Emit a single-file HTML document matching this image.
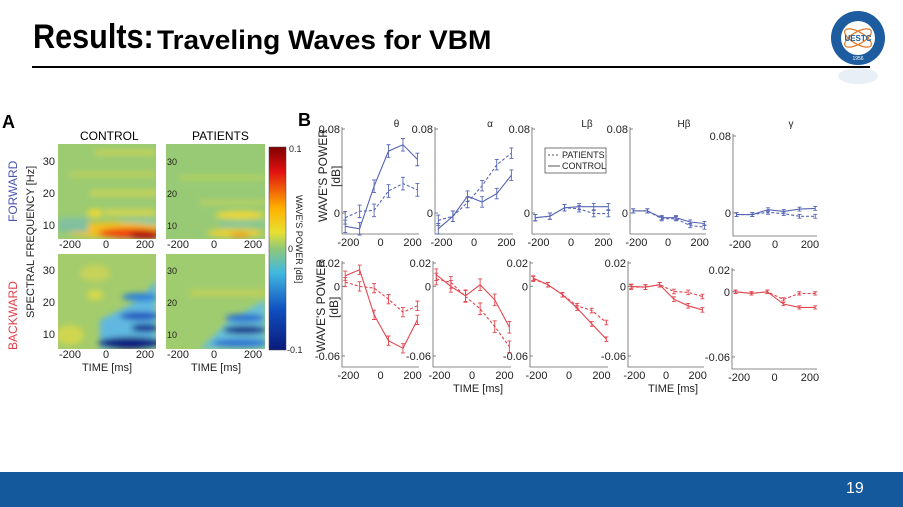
<!DOCTYPE html>
<html><head><meta charset="utf-8"><style>
html,body{margin:0;padding:0;background:#fff;}
body{width:903px;height:507px;position:relative;overflow:hidden;font-family:"Liberation Sans",sans-serif;}
.t{position:absolute;white-space:nowrap;}
</style></head><body>
<div class="t" style="left:33px;top:18px;font-weight:bold;color:#000;font-size:34px;transform:scaleX(0.9);transform-origin:left top;">Results:</div>
<div class="t" style="left:157px;top:25px;font-weight:bold;color:#000;font-size:27px;transform:scaleX(1.04);transform-origin:left top;">Traveling Waves for VBM</div>
<div style="position:absolute;left:32px;top:66px;width:838px;height:2px;background:#000;"></div>
<svg style="position:absolute;left:828px;top:8px" width="60" height="80">
<circle cx="30" cy="30" r="27" fill="#1d5c9e"/><circle cx="30" cy="30" r="17" fill="#fff"/>
<ellipse cx="30" cy="30" rx="15" ry="6" fill="none" stroke="#e07b2a" stroke-width="1.2" transform="rotate(30 30 30)"/>
<ellipse cx="30" cy="30" rx="15" ry="6" fill="none" stroke="#e07b2a" stroke-width="1.2" transform="rotate(-30 30 30)"/>
<text x="30" y="33" font-size="8" font-weight="bold" fill="#1d5c9e" text-anchor="middle" font-family="Liberation Sans">UESTC</text>
<text x="30" y="52" font-size="5" fill="#fff" text-anchor="middle" font-family="Liberation Sans">1956</text>
<ellipse cx="30" cy="68" rx="20" ry="8" fill="#dfe8f2" opacity="0.7"/>
</svg>
<div style="position:absolute;left:0;top:472px;width:903px;height:35px;background:#14599b;"></div>
<div class="t" style="left:846px;top:480px;color:#fff;font-size:16px;">19</div>

<svg id="fig" style="position:absolute;left:0;top:0" width="903" height="472" font-family="Liberation Sans">
<defs>
<filter id="bl" x="-20%" y="-20%" width="140%" height="140%"><feGaussianBlur stdDeviation="3"/></filter>
<clipPath id="c1"><rect x="58" y="144" width="98" height="95"/></clipPath>
<clipPath id="c2"><rect x="166" y="144" width="99" height="95"/></clipPath>
<clipPath id="c3"><rect x="58" y="254" width="98" height="95"/></clipPath>
<clipPath id="c4"><rect x="166" y="254" width="99" height="95"/></clipPath>
<linearGradient id="jet" x1="0" y1="0" x2="0" y2="1">
<stop offset="0" stop-color="#7f0000"/><stop offset="0.12" stop-color="#e01010"/><stop offset="0.3" stop-color="#ffb000"/><stop offset="0.42" stop-color="#e8e030"/><stop offset="0.5" stop-color="#90c878"/><stop offset="0.62" stop-color="#40b8e0"/><stop offset="0.8" stop-color="#1050c0"/><stop offset="1" stop-color="#0a1a7a"/>
</linearGradient>
</defs>
<text x="2" y="128" font-size="18" font-weight="bold">A</text>
<text x="80" y="140" font-size="12">CONTROL</text>
<text x="192" y="140" font-size="12">PATIENTS</text>
<g clip-path="url(#c1)">
<rect x="58" y="144" width="98" height="95" fill="#9ccb72"/>
<g filter="url(#bl)">
<rect x="95" y="150" width="60" height="5" fill="#c8d258"/>
<rect x="70" y="172" width="86" height="5" fill="#c0d05a"/>
<rect x="90" y="190" width="66" height="6" fill="#c8d258"/>
<rect x="105" y="210" width="50" height="5" fill="#e0d848"/>
<ellipse cx="95" cy="213" rx="8" ry="4" fill="#f0d830"/>
<rect x="120" y="220" width="36" height="4" fill="#7cc8b8"/>
<ellipse cx="115" cy="230" rx="50" ry="8" fill="#f2c020"/>
<ellipse cx="130" cy="233" rx="32" ry="5" fill="#f04010"/>
<ellipse cx="145" cy="235" rx="16" ry="4" fill="#b01008"/>
<rect x="58" y="218" width="30" height="14" fill="#80c0a0"/>
</g></g>
<g clip-path="url(#c2)">
<rect x="166" y="144" width="99" height="95" fill="#98ca76"/>
<g filter="url(#bl)">
<rect x="180" y="175" width="85" height="5" fill="#b4d060"/>
<rect x="200" y="200" width="65" height="5" fill="#b8d060"/>
<ellipse cx="240" cy="215" rx="25" ry="4" fill="#f0d838"/>
<rect x="220" y="222" width="45" height="4" fill="#80c4a8"/>
<ellipse cx="235" cy="233" rx="28" ry="4" fill="#f0d030"/>
<ellipse cx="240" cy="235" rx="10" ry="3" fill="#f0a020"/>
</g></g>
<g clip-path="url(#c3)">
<rect x="58" y="254" width="98" height="95" fill="#a4cc6c"/>
<g filter="url(#bl)">
<ellipse cx="95" cy="273" rx="15" ry="8" fill="#c8d258"/>
<ellipse cx="95" cy="295" rx="8" ry="5" fill="#d8d848"/>
<ellipse cx="70" cy="335" rx="14" ry="10" fill="#d0d650"/>
<path d="M100 349 L100 320 L140 300 L156 280 L156 349 Z" fill="#60b8e0"/>
<ellipse cx="140" cy="297" rx="18" ry="4" fill="#2a80d8"/>
<ellipse cx="140" cy="316" rx="20" ry="4" fill="#1a50c0"/>
<ellipse cx="145" cy="328" rx="14" ry="4" fill="#102a90"/>
<ellipse cx="130" cy="343" rx="32" ry="6" fill="#0c1e80"/>
</g></g>
<g clip-path="url(#c4)">
<rect x="166" y="254" width="99" height="95" fill="#a0cc70"/>
<g filter="url(#bl)">
<rect x="190" y="290" width="75" height="6" fill="#c0d058"/>
<path d="M200 349 L230 320 L265 300 L265 349 Z" fill="#68c0d8"/>
<ellipse cx="245" cy="318" rx="20" ry="4" fill="#2a70d0"/>
<ellipse cx="245" cy="330" rx="22" ry="4" fill="#0e2488"/>
<ellipse cx="240" cy="343" rx="28" ry="4" fill="#2a70d0"/>
</g></g>
<rect x="269" y="147" width="17" height="203" fill="url(#jet)" stroke="#444" stroke-width="0.5"/>
<g font-size="9" fill="#222">
<text x="289" y="152">0.1</text><text x="288" y="252">0</text><text x="287" y="353">-0.1</text>
<text transform="translate(296,195) rotate(90)" font-size="9">WAVE'S POWER [dB]</text>
</g>
<g font-size="11" fill="#222">
<text x="55" y="165" text-anchor="end">30</text><text x="55" y="197" text-anchor="end">20</text><text x="55" y="229" text-anchor="end">10</text>
<text x="55" y="274" text-anchor="end">30</text><text x="55" y="306" text-anchor="end">20</text><text x="55" y="338" text-anchor="end">10</text>
<text x="167" y="165" font-size="9">30</text><text x="167" y="197" font-size="9">20</text><text x="167" y="229" font-size="9">10</text>
<text x="167" y="274" font-size="9">30</text><text x="167" y="306" font-size="9">20</text><text x="167" y="338" font-size="9">10</text>
<text x="70" y="248" text-anchor="middle">-200</text><text x="106" y="248" text-anchor="middle">0</text><text x="145" y="248" text-anchor="middle">200</text>
<text x="178" y="248" text-anchor="middle">-200</text><text x="214" y="248" text-anchor="middle">0</text><text x="253" y="248" text-anchor="middle">200</text>
<text x="70" y="358" text-anchor="middle">-200</text><text x="106" y="358" text-anchor="middle">0</text><text x="145" y="358" text-anchor="middle">200</text>
<text x="178" y="358" text-anchor="middle">-200</text><text x="214" y="358" text-anchor="middle">0</text><text x="253" y="358" text-anchor="middle">200</text>
<text x="107" y="371" text-anchor="middle">TIME [ms]</text><text x="216" y="371" text-anchor="middle">TIME [ms]</text>
<text transform="translate(34,318) rotate(-90)" font-size="11">SPECTRAL FREQUENCY [Hz]</text>
<text transform="translate(17,222) rotate(-90)" font-size="12" fill="#4a55b0">FORWARD</text>
<text transform="translate(17,350) rotate(-90)" font-size="12" fill="#e0404a">BACKWARD</text>
</g>
<text x="298" y="126" font-size="18" font-weight="bold">B</text>
<text transform="translate(327,222) rotate(-90)" font-size="12" fill="#222">WAVE'S POWER</text>
<text transform="translate(340,187) rotate(-90)" font-size="12" fill="#222">[dB]</text>
<text transform="translate(325,352) rotate(-90)" font-size="12" fill="#222">WAVE'S POWER</text>
<text transform="translate(338,318) rotate(-90)" font-size="12" fill="#222">[dB]</text>
<text x="478" y="392" font-size="11" text-anchor="middle" fill="#222">TIME [ms]</text>
<text x="673" y="392" font-size="11" text-anchor="middle" fill="#222">TIME [ms]</text>
<g>
<rect x="545" y="148" width="61" height="25" fill="#fff" stroke="#555" stroke-width="0.8"/>
<line x1="548" y1="155" x2="560" y2="155" stroke="#555" stroke-dasharray="2,2"/>
<line x1="548" y1="166" x2="560" y2="166" stroke="#555"/>
<text x="562" y="158" font-size="9" fill="#222">PATIENTS</text>
<text x="562" y="169" font-size="9" fill="#222">CONTROL</text>
</g>
<g id="charts"></g>
</svg>
<script>
const times = [-220, -130, -40, 50, 140, 230];
const bands = ['θ', 'α', 'Lβ', 'Hβ', 'γ'];
const xTicks = [-200, 0, 200];
const fwdCtrl = [
 [-0.0127,-0.015,0.0255,0.059,0.065,0.051],
 [-0.015,-0.003,0.016,0.0105,0.0185,0.036],
 [-0.0045,-0.003,0.005,0.006,0.006,0.006],
 [0.002,0.002,-0.0045,-0.0045,-0.0086,-0.01],
 [-0.0017,-0.0017,0.0034,0.0017,0.004,0.0048]];
const fwdPat = [
 [-0.0045,0.0016,0.0025,0.021,0.028,0.022],
 [-0.007,-0.003,0.01,0.026,0.046,0.057],
 [-0.0045,-0.003,0.005,0.004,-0.0006,-0.0006],
 [0.002,0.002,-0.0054,-0.0054,-0.012,-0.0134],
 [-0.0017,-0.0017,0.0007,-0.0007,-0.0034,-0.0034]];
const bwdCtrl = [
 [0.0091,0.0142,-0.0246,-0.0468,-0.0534,-0.0289],
 [0.0099,-0.0001,-0.0082,0.0013,-0.0117,-0.0353],
 [0.007,0.0013,-0.0073,-0.0188,-0.0324,-0.0456],
 [-0.0001,-0.0007,0.0013,-0.0111,-0.0168,-0.0203],
 [0,-0.0015,0,-0.0113,-0.0144,-0.0144]];
const bwdPat = [
 [0.0036,-0.0001,-0.0016,-0.0111,-0.0223,-0.0168],
 [0.0062,0.0033,-0.0088,-0.0194,-0.0347,-0.052],
 [0.0062,0.0013,-0.0073,-0.0168,-0.0209,-0.0312],
 [-0.0007,-0.0007,0.0013,-0.0045,-0.0053,-0.0088],
 [0,-0.0015,0,-0.007,-0.0015,-0.0015]];
const fwdErr = [0.006, 0.005, 0.003, 0.002, 0.002];
const bwdErr = [0.004, 0.005, 0.002, 0.002, 0.0015];

const NS = 'http://www.w3.org/2000/svg';
const root = document.getElementById('charts');
function mk(tag, attrs, parent) {
  const e = document.createElementNS(NS, tag);
  for (const k in attrs) e.setAttribute(k, attrs[k]);
  (parent || root).appendChild(e);
  return e;
}
const fAx = [342, 435, 532, 630, 733];
const fRt = [419, 513, 610, 706, 817];
const bAx = [342, 433, 530, 628, 732];
const bRt = [419, 511, 608, 704, 817];
function drawPanel(i, row) {
  const top = row === 0;
  const ax = top ? fAx[i] : bAx[i], rt = top ? fRt[i] : bRt[i];
  const k = (rt - ax) / 480;
  const xS = t => ax + (t + 240) * k;
  let y1, y2, v1, v2, bottom;
  if (top) { v1 = 0.08; v2 = 0; y1 = i === 4 ? 136 : 129; y2 = 213; bottom = i === 4 ? 236 : 234; }
  else { v1 = 0.02; v2 = -0.06; y1 = i === 4 ? 270 : 263; y2 = i === 4 ? 357 : 356; bottom = i === 4 ? 369 : 367; }
  const yS = v => y1 + (v1 - v) * (y2 - y1) / (v1 - v2);
  const g = mk('g', {});
  
  
  mk('path', {d: `M${ax} ${y1 - 2} V${bottom} H${rt}`, fill: 'none', stroke: '#666', 'stroke-width': 0.8}, g);
  const tl = [[v1, top ? '0.08' : '0.02'], [v2, top ? '0' : '-0.06']];
  if (!top) tl.push([0, '0']);
  tl.forEach(([v, s]) => {
    mk('line', {x1: ax, x2: ax + 3, y1: yS(v), y2: yS(v), stroke: '#666', 'stroke-width': 0.8}, g);
    const tx = mk('text', {x: ax - 2, y: yS(v) + 4, 'font-size': 11, 'text-anchor': 'end', fill: '#222'}, g);
    tx.textContent = s;
  });
  xTicks.forEach(t => {
    const tx = mk('text', {x: xS(t), y: bottom + 12, 'font-size': 11, 'text-anchor': 'middle', fill: '#222'}, g);
    
    
    tx.textContent = t;
  });
  if (top) {
    const tt = mk('text', {x: (ax + rt) / 2 + 16, y: 127, 'font-size': 10, 'text-anchor': 'middle', fill: '#222'}, g);
    
    
    tt.textContent = bands[i];
  }
  const col = top ? '#5565b5' : '#e4454e';
  const series = top ? [[fwdCtrl[i], false], [fwdPat[i], true]] : [[bwdCtrl[i], false], [bwdPat[i], true]];
  const err = top ? fwdErr[i] : bwdErr[i];
  series.forEach(([vals, dashed]) => {
    const d = vals.map((v, j) => (j ? 'L' : 'M') + xS(times[j]).toFixed(1) + ' ' + yS(v).toFixed(1)).join(' ');
    const p = mk('path', {d: d, fill: 'none', stroke: col, 'stroke-width': 1.1, 'stroke-dasharray': dashed ? '3,2' : 'none'}, g);
    
    
    vals.forEach((v, j) => {
      const x = xS(times[j]), a = yS(v + err), b = yS(v - err);
      mk('path', {d: `M${x} ${a} V${b} M${x - 2} ${a} H${x + 2} M${x - 2} ${b} H${x + 2}`, stroke: col, 'stroke-width': 0.9, fill: 'none'}, g);
    });
  });
}
for (let i = 0; i < 5; i++) { drawPanel(i, 0); drawPanel(i, 1); }
</script>
</body></html>
